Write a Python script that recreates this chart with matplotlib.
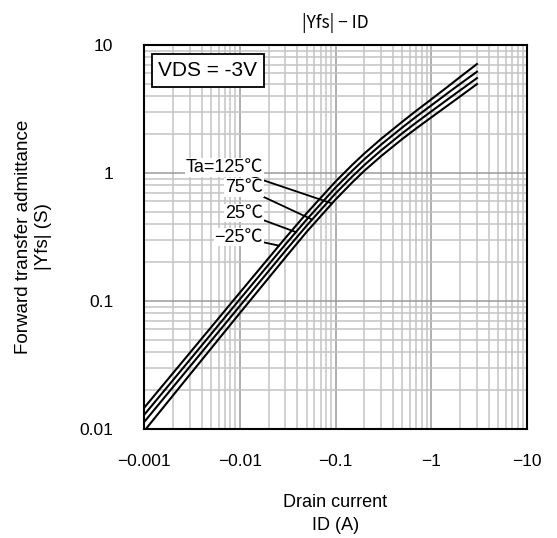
import numpy as np
import matplotlib
matplotlib.use("Agg")
import matplotlib.pyplot as plt
from matplotlib.ticker import FixedLocator, FixedFormatter, LogLocator, NullFormatter

plt.rcParams['font.family'] = ['Liberation Sans', 'Noto Sans CJK JP', 'DejaVu Sans']

# drain current (A), negative as on the datasheet
drain_current = [-0.001, -0.003, -0.01, -0.03, -0.05, -0.1, -0.15, -0.2,
                 -0.3, -0.5, -0.7, -1, -1.5, -2, -3]

# |Yfs| (S) for each ambient temperature
yfs_m25 = [0.0146, 0.0392, 0.116, 0.311, 0.485, 0.857, 1.16, 1.42,
           1.85, 2.52, 3.07, 3.76, 4.75, 5.62, 7.10]
yfs_25 = [0.01285, 0.0346, 0.103, 0.277, 0.433, 0.769, 1.043, 1.281,
          1.669, 2.273, 2.763, 3.373, 4.232, 4.962, 6.18]
yfs_75 = [0.0113, 0.0306, 0.0913, 0.247, 0.388, 0.692, 0.941, 1.154,
          1.504, 2.049, 2.484, 3.027, 3.781, 4.423, 5.51]
yfs_125 = [0.0096, 0.0265, 0.0803, 0.219, 0.347, 0.620, 0.846, 1.041,
           1.356, 1.847, 2.235, 2.718, 3.387, 3.962, 4.95]

curve_labels = ["Ta=125\u2103", "75\u2103", "25\u2103", "\u221225\u2103"]
curves = [yfs_125, yfs_75, yfs_25, yfs_m25]
# current where each leader line meets its curve
leader_current = [0.092, 0.057, 0.0386, 0.0257]
label_y = [0.682, 0.628, 0.5625, 0.50]

x_ticks = [0.001, 0.01, 0.1, 1, 10]
x_tick_labels = ["\u22120.001", "\u22120.01", "\u22120.1", "\u22121", "\u221210"]
y_ticks = [0.01, 0.1, 1, 10]
y_tick_labels = ["0.01", "0.1", "1", "10"]

fig = plt.figure(figsize=(5.57, 5.38), dpi=100)
ax = fig.add_axes([144 / 557, 1 - 429 / 538, 383 / 557, 384 / 538])
ax.set_xscale('log')
ax.set_yscale('log')
ax.set_xlim(0.001, 10)
ax.set_ylim(0.01, 10)

ax.xaxis.set_major_locator(FixedLocator(x_ticks))
ax.xaxis.set_major_formatter(FixedFormatter(x_tick_labels))
ax.yaxis.set_major_locator(FixedLocator(y_ticks))
ax.yaxis.set_major_formatter(FixedFormatter(y_tick_labels))
ax.xaxis.set_minor_locator(LogLocator(base=10, subs=np.arange(2, 10)))
ax.yaxis.set_minor_locator(LogLocator(base=10, subs=np.arange(2, 10)))
ax.xaxis.set_minor_formatter(NullFormatter())
ax.yaxis.set_minor_formatter(NullFormatter())

ax.grid(which='major', color='#9a9a9a', linewidth=1.1)
ax.grid(which='minor', color='#c4c4c4', linewidth=1.1)
ax.set_axisbelow(True)
ax.tick_params(which='both', length=0)
ax.tick_params(axis='x', pad=18, labelsize=12.5)
ax.tick_params(axis='y', pad=22, labelsize=12.5)
for sp in ax.spines.values():
    sp.set_linewidth(1.5)

x = np.abs(drain_current)
for yv in curves:
    ax.plot(x, yv, color='black', linewidth=1.5, solid_joinstyle='round')

# curve labels with leader lines
for lab, yv, ic, ly in zip(curve_labels, curves, leader_current, label_y):
    yc = 10 ** np.interp(np.log10(ic), np.log10(x), np.log10(yv))
    ax.annotate(lab, xy=(ic, yc), xycoords='data',
                xytext=(0.311, ly), textcoords='axes fraction',
                ha='right', va='center', fontsize=13,
                bbox=dict(boxstyle='square,pad=0.05', fc='white', ec='none'),
                arrowprops=dict(arrowstyle='-', color='black', lw=1.3,
                                shrinkA=0, shrinkB=0))

ax.text(0.167, 0.934, "VDS = -3V", transform=ax.transAxes, ha='center', va='center',
        fontsize=15, bbox=dict(boxstyle='square,pad=0.33', fc='white', ec='black', lw=1.3))

ax.set_title("|Yfs| \u2212 ID", fontsize=12.5, pad=12, family=['Noto Sans CJK JP', 'DejaVu Sans'])
ax.set_xlabel("Drain current\nID (A)", fontsize=13, labelpad=18, linespacing=1.5)
ax.set_ylabel("Forward transfer admittance\n|Yfs| (S)", fontsize=13.5, labelpad=20)

fig.savefig("out.png", dpi=100)
